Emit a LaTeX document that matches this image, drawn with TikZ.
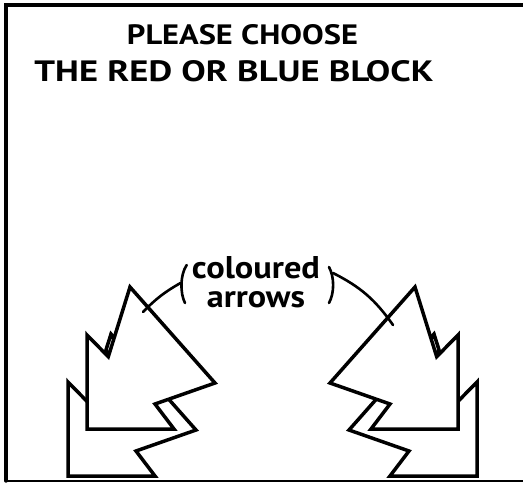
\documentclass[tikz,border=0pt]{standalone}
\usepackage{fontspec}
\setmainfont{PT Sans}
\usetikzlibrary{calc}
\tikzset{blk/.style={line width=3.5pt,fill=white,line join=miter},
  tab/.style={line width=2.6pt},
  lead/.style={line width=2.6pt}}
\newcommand{\blkpath}{(130,287) -- (215,383) -- (155,404) -- (174,429) -- (87,429) -- (87,335) -- (108.3,356.7) -- cycle}

\begin{document}
\begin{tikzpicture}[x=1pt,y=-1pt,line cap=round,font=\bfseries]
\useasboundingbox (0,0) rectangle (523,483);
% --- frame, open on the right
\draw[line width=3.4pt] (523,5) -- (6,5) -- (6,481);
\draw[line width=2pt] (6,481) -- (523,481);
% --- title
\node[inner sep=0] (ttl1) at (242.5,35) {\resizebox{231pt}{20pt}{PLEASE CHOOSE}};
\node[inner sep=0] (ttl2) at (234,71) {\resizebox{399pt}{21pt}{THE RED OR BLUE BLOCK}};
% --- left pair of arrows
\begin{scope}
\draw[blk,shift={(-19,47)}] \blkpath;
\draw[blk] \blkpath;
\draw[tab] (108.5,355) -- (106.3,348) -- (109.7,338.5) -- (113.5,336.5);
\end{scope}
% --- right pair, mirrored
\begin{scope}[xshift=545pt,xscale=-1]
\draw[blk,shift={(-19,47)}] \blkpath;
\draw[blk] \blkpath;
\draw[tab] (108.5,355) -- (106.3,348) -- (109.7,338.5) -- (113.5,336.5);
\end{scope}
% --- label with brackets and leaders
\node[inner sep=0,align=center,font=\bfseries\fontsize{30}{29}\selectfont] (lbl) at (256,282)
  {\resizebox{128pt}{22pt}{coloured}\\\resizebox{98pt}{16pt}{arrows}};
\draw[lead] (186.7,265) .. controls (180,275) and (180,293) .. (185,303);
\draw[lead] (329,267) .. controls (334.5,277) and (334.5,293) .. (329,303);
\coordinate (lbrk) at (180.5,283);
\coordinate (lfoot) at (143,312);
\coordinate (rbrk) at (333,273);
\coordinate (rfoot) at (393,325);
\draw[lead] (lbrk) to[bend right=8] (lfoot);
\draw[lead] (rbrk) to[bend left=14] (rfoot);
\end{tikzpicture}
\end{document}
